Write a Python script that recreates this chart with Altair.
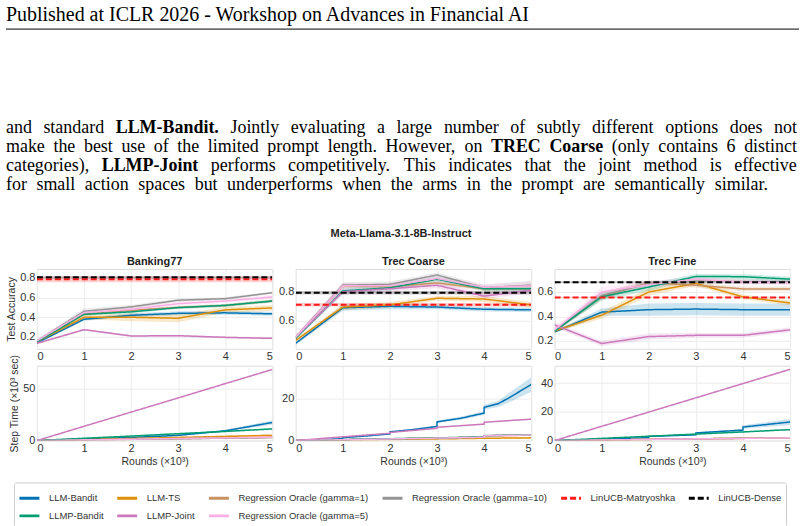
import altair as alt
import pandas as pd

METHODS = ["LLM-Bandit", "LLM-TS", "Regression Oracle (gamma=1)", "Regression Oracle (gamma=10)",
           "LinUCB-Matryoshka", "LinUCB-Dense", "LLMP-Bandit", "LLMP-Joint", "Regression Oracle (gamma=5)"]
COLORS = ["#0173b2", "#de8f05", "#ca9161", "#949494", "#ff1a1a", "#000000", "#029e73", "#cc78bc", "#fbafe4"]
DASHES = [[1, 0], [1, 0], [1, 0], [1, 0], [6, 3], [6, 3], [1, 0], [1, 0], [1, 0]]
LINUCB = ["LinUCB-Matryoshka", "LinUCB-Dense"]

ROUNDS = [0, 1, 2, 3, 4, 5]

ACC_BANKING = {
    "LLM-Bandit": [0.14, 0.38, 0.42, 0.44, 0.445, 0.435],
    "LLM-TS": [0.15, 0.40, 0.40, 0.39, 0.475, 0.495],
    "Regression Oracle (gamma=1)": [0.15, 0.43, 0.47, 0.50, 0.52, 0.565],
    "Regression Oracle (gamma=10)": [0.16, 0.46, 0.505, 0.573, 0.589, 0.649],
    "LinUCB-Matryoshka": [0.785, 0.785, 0.785, 0.785, 0.785, 0.785],
    "LinUCB-Dense": [0.805, 0.805, 0.805, 0.805, 0.805, 0.805],
    "LLMP-Bandit": [0.15, 0.43, 0.455, 0.498, 0.52, 0.565],
    "LLMP-Joint": [0.135, 0.274, 0.21, 0.213, 0.196, 0.186],
    "Regression Oracle (gamma=5)": [0.16, 0.448, 0.48, 0.538, 0.565, 0.606],
}
ACC_BANKING_CI = {
    "LLM-Bandit": [0.01, 0.015, 0.02, 0.02, 0.02, 0.02],
    "LLM-TS": [0.01, 0.02, 0.04, 0.04, 0.03, 0.03],
    "Regression Oracle (gamma=1)": [0.01, 0.015, 0.015, 0.015, 0.015, 0.015],
    "Regression Oracle (gamma=10)": [0.01, 0.03, 0.02, 0.015, 0.015, 0.01],
    "LinUCB-Matryoshka": [0.03, 0.03, 0.03, 0.03, 0.03, 0.03],
    "LinUCB-Dense": [0.012, 0.012, 0.012, 0.012, 0.012, 0.012],
    "LLMP-Bandit": [0.01, 0.015, 0.015, 0.015, 0.015, 0.015],
    "LLMP-Joint": [0.01, 0.01, 0.01, 0.01, 0.01, 0.01],
    "Regression Oracle (gamma=5)": [0.02, 0.02, 0.02, 0.02, 0.02, 0.02],
}

ACC_COARSE = {
    "LLM-Bandit": [0.448, 0.69, 0.70, 0.695, 0.68, 0.676],
    "LLM-TS": [0.468, 0.695, 0.71, 0.755, 0.75, 0.71],
    "Regression Oracle (gamma=1)": [0.49, 0.84, 0.834, 0.86, 0.82, 0.82],
    "Regression Oracle (gamma=10)": [0.49, 0.845, 0.85, 0.914, 0.827, 0.845],
    "LinUCB-Matryoshka": [0.71, 0.71, 0.71, 0.71, 0.71, 0.71],
    "LinUCB-Dense": [0.793, 0.793, 0.793, 0.793, 0.793, 0.793],
    "LLMP-Bandit": [0.482, 0.805, 0.827, 0.885, 0.82, 0.82],
    "LLMP-Joint": [0.49, 0.80, 0.82, 0.844, 0.77, 0.81],
    "Regression Oracle (gamma=5)": [0.49, 0.84, 0.84, 0.89, 0.83, 0.84],
}
ACC_COARSE_CI = {
    "LLM-Bandit": [0.01, 0.02, 0.02, 0.015, 0.015, 0.015],
    "LLM-TS": [0.01, 0.02, 0.02, 0.015, 0.02, 0.02],
    "Regression Oracle (gamma=1)": [0.01, 0.015, 0.015, 0.015, 0.015, 0.02],
    "Regression Oracle (gamma=10)": [0.01, 0.02, 0.02, 0.015, 0.02, 0.03],
    "LinUCB-Matryoshka": [0.012, 0.012, 0.012, 0.012, 0.012, 0.012],
    "LinUCB-Dense": [0.012, 0.012, 0.012, 0.012, 0.012, 0.012],
    "LLMP-Bandit": [0.01, 0.02, 0.02, 0.015, 0.015, 0.02],
    "LLMP-Joint": [0.01, 0.02, 0.02, 0.02, 0.02, 0.02],
    "Regression Oracle (gamma=5)": [0.01, 0.02, 0.02, 0.02, 0.02, 0.03],
}

ACC_FINE = {
    "LLM-Bandit": [0.273, 0.435, 0.455, 0.46, 0.455, 0.455],
    "LLM-TS": [0.28, 0.41, 0.60, 0.67, 0.56, 0.51],
    "Regression Oracle (gamma=1)": [0.28, 0.565, 0.675, 0.655, 0.625, 0.625],
    "Regression Oracle (gamma=10)": [0.28, 0.57, 0.67, 0.69, 0.685, 0.685],
    "LinUCB-Matryoshka": [0.555, 0.555, 0.555, 0.555, 0.555, 0.555],
    "LinUCB-Dense": [0.68, 0.68, 0.68, 0.68, 0.68, 0.68],
    "LLMP-Bandit": [0.28, 0.56, 0.64, 0.727, 0.725, 0.705],
    "LLMP-Joint": [0.33, 0.178, 0.235, 0.245, 0.245, 0.29],
    "Regression Oracle (gamma=5)": [0.29, 0.60, 0.66, 0.705, 0.68, 0.675],
}
ACC_FINE_CI = {
    "LLM-Bandit": [0.01, 0.03, 0.05, 0.05, 0.05, 0.05],
    "LLM-TS": [0.01, 0.03, 0.03, 0.02, 0.02, 0.02],
    "Regression Oracle (gamma=1)": [0.01, 0.03, 0.02, 0.02, 0.02, 0.02],
    "Regression Oracle (gamma=10)": [0.01, 0.03, 0.02, 0.02, 0.02, 0.02],
    "LinUCB-Matryoshka": [0.005, 0.005, 0.005, 0.005, 0.005, 0.005],
    "LinUCB-Dense": [0.008, 0.008, 0.008, 0.008, 0.008, 0.008],
    "LLMP-Bandit": [0.01, 0.03, 0.03, 0.02, 0.02, 0.02],
    "LLMP-Joint": [0.02, 0.02, 0.025, 0.02, 0.02, 0.02],
    "Regression Oracle (gamma=5)": [0.02, 0.04, 0.03, 0.02, 0.02, 0.02],
}

TIME_BANKING = {
    "LLM-Bandit": [0, 1.5, 3.0, 5.0, 9.4, 17.4],
    "LLM-TS": [0, 1.0, 2.0, 3.0, 4.0, 5.0],
    "Regression Oracle (gamma=1)": [0, 0.6, 1.2, 1.8, 2.4, 3.0],
    "Regression Oracle (gamma=10)": [0, 0.5, 1.1, 1.7, 2.3, 2.9],
    "LLMP-Bandit": [0, 2.2, 4.3, 6.6, 8.8, 11.2],
    "LLMP-Joint": [0, 13.7, 27.4, 41.0, 54.8, 68.4],
    "Regression Oracle (gamma=5)": [0, 0.7, 1.3, 2.0, 2.6, 3.3],
}
TIME_BANKING_CI = {
    "LLM-Bandit": [0, 0.2, 0.3, 0.5, 1.0, 2.0],
    "LLM-TS": [0, 0.2, 0.3, 0.5, 0.7, 1.0],
    "Regression Oracle (gamma=1)": [0, 0.1, 0.2, 0.3, 0.4, 0.5],
    "Regression Oracle (gamma=10)": [0, 0.1, 0.2, 0.3, 0.4, 0.5],
    "LLMP-Bandit": [0, 0.3, 0.5, 0.6, 0.8, 1.0],
    "LLMP-Joint": [0, 0.2, 0.2, 0.3, 0.3, 0.4],
    "Regression Oracle (gamma=5)": [0, 0.1, 0.2, 0.3, 0.4, 0.5],
}

TIME_COARSE_X = {
    "LLM-Bandit": [0, 1, 1, 1.5, 2, 2, 2.5, 3, 3, 3.5, 4, 4, 4.3, 4.6, 5],
    "LLM-TS": [0, 1, 2, 3, 4, 5],
    "Regression Oracle (gamma=1)": [0, 1, 2, 3, 4, 4, 5],
    "Regression Oracle (gamma=10)": [0, 1, 2, 3, 4, 4, 5],
    "LLMP-Bandit": [0, 1, 2, 3, 4, 4, 5],
    "LLMP-Joint": [0, 1, 2, 2, 3, 3, 4, 4, 5],
    "Regression Oracle (gamma=5)": [0, 1, 2, 3, 4, 4, 5],
}
TIME_COARSE = {
    "LLM-Bandit": [0, 0.9, 1.4, 2.2, 3.2, 4.2, 5.3, 6.8, 9.0, 10.7, 13.2, 16.0, 17.7, 21.5, 27.0],
    "LLM-TS": [0, 0.3, 0.5, 0.8, 1.1, 1.3],
    "Regression Oracle (gamma=1)": [0, 0.4, 0.8, 1.2, 1.6, 2.2, 2.6],
    "Regression Oracle (gamma=10)": [0, 0.4, 0.8, 1.2, 1.7, 2.4, 2.8],
    "LLMP-Bandit": [0, 0.5, 0.9, 1.3, 1.8, 2.3, 2.8],
    "LLMP-Joint": [0, 1.8, 3.5, 3.9, 5.9, 6.4, 7.9, 8.8, 10.3],
    "Regression Oracle (gamma=5)": [0, 0.4, 0.8, 1.2, 1.6, 2.3, 2.7],
}
TIME_COARSE_CI = {
    "LLM-Bandit": [0, 0.1, 0.1, 0.2, 0.3, 0.3, 0.4, 0.5, 0.6, 0.7, 0.9, 1.2, 1.5, 2.5, 3.5],
    "LLM-TS": [0, 0.05, 0.1, 0.1, 0.15, 0.2],
    "Regression Oracle (gamma=1)": [0, 0.05, 0.1, 0.1, 0.2, 0.3, 0.4],
    "Regression Oracle (gamma=10)": [0, 0.05, 0.1, 0.1, 0.2, 0.3, 0.5],
    "LLMP-Bandit": [0, 0.05, 0.1, 0.1, 0.2, 0.3, 0.4],
    "LLMP-Joint": [0, 0.1, 0.2, 0.2, 0.2, 0.2, 0.3, 0.3, 0.3],
    "Regression Oracle (gamma=5)": [0, 0.05, 0.1, 0.1, 0.2, 0.3, 0.4],
}

TIME_FINE_X = {
    "LLM-Bandit": [0, 1, 1, 2, 2, 3, 3, 4, 4, 5],
}
TIME_FINE = {
    "LLM-Bandit": [0, 0.9, 1.1, 2.0, 2.9, 4.0, 5.3, 7.3, 9.4, 12.9],
    "LLM-TS": [0, 0.4, 0.8, 1.2, 1.6, 2.0],
    "Regression Oracle (gamma=1)": [0, 0.4, 0.8, 1.2, 1.5, 1.9],
    "Regression Oracle (gamma=10)": [0, 0.4, 0.8, 1.2, 1.6, 2.0],
    "LLMP-Bandit": [0, 1.5, 3.0, 4.5, 6.0, 7.6],
    "LLMP-Joint": [0, 9.9, 19.8, 29.7, 39.6, 49.5],
    "Regression Oracle (gamma=5)": [0, 0.4, 0.8, 1.2, 1.5, 1.9],
}
TIME_FINE_CI = {
    "LLM-Bandit": [0, 0.1, 0.1, 0.2, 0.3, 0.4, 0.5, 0.8, 1.2, 2.0],
    "LLM-TS": [0, 0.05, 0.1, 0.1, 0.15, 0.2],
    "Regression Oracle (gamma=1)": [0, 0.05, 0.1, 0.1, 0.15, 0.2],
    "Regression Oracle (gamma=10)": [0, 0.05, 0.1, 0.1, 0.15, 0.2],
    "LLMP-Bandit": [0, 0.1, 0.2, 0.3, 0.4, 0.5],
    "LLMP-Joint": [0, 0.2, 0.2, 0.3, 0.3, 0.4],
    "Regression Oracle (gamma=5)": [0, 0.05, 0.1, 0.1, 0.15, 0.2],
}

HEADER = "Published at ICLR 2026 - Workshop on Advances in Financial AI"
FIG_TITLE = "Meta-Llama-3.1-8B-Instruct"
PANEL_TITLES = ["Banking77", "Trec Coarse", "Trec Fine"]
Y_TITLES = ["Test Accuracy", "Step Time (×10³ sec)"]
X_TITLE = "Rounds (×10³)"
PARA_LINES = [
    "and standard **LLM-Bandit.** Jointly evaluating a large number of subtly different options does not",
    "make the best use of the limited prompt length. However, on **TREC** **Coarse** (only contains 6 distinct",
    "categories), **LLMP-Joint** performs competitively. This indicates that the joint method is effective",
    "for small action spaces but underperforms when the arms in the prompt are semantically similar.",
]

# Times / Liberation Serif advance widths (1/1000 em), used only to justify the paragraph
TIMES_R = dict(zip(" (),-.0123456789", [250, 333, 333, 250, 333, 250] + [500] * 10))
TIMES_R.update(dict(zip("ABCDEFGHIJKLMNOPQRSTUVWXYZ",
                        [722, 667, 667, 722, 611, 556, 722, 722, 333, 389, 722, 611, 889,
                         722, 722, 556, 722, 667, 556, 611, 722, 722, 944, 722, 722, 611])))
TIMES_R.update(dict(zip("abcdefghijklmnopqrstuvwxyz",
                        [444, 500, 444, 500, 444, 333, 500, 500, 278, 278, 500, 278, 778,
                         500, 500, 500, 500, 333, 389, 278, 500, 500, 722, 500, 500, 444])))
TIMES_B = dict(TIMES_R)
TIMES_B.update({"a": 500, "b": 556, "d": 556, "n": 556, "r": 444, "t": 333, "J": 500, "L": 667,
                "M": 944, "P": 611, "R": 722, "T": 667, "E": 667, "C": 722, "B": 667})

OX = 36
PW = 236
TOP_H = 80
BOT_H = 75
TEXT_H = 251
TEXT_L, TEXT_R, LAST_END = 5, 798, 770
PARA_SIZE = 18
HDR_SIZE = 20
LINE_Y0 = 132
LINE_DY = 19


def wem(word, bold):
    t = TIMES_B if bold else TIMES_R
    return sum(t.get(c, 500) for c in word) / 1000.0


def typeset():
    rows = []
    for ln, line in enumerate(PARA_LINES):
        words = [(w.strip("*"), w.startswith("**")) for w in line.split(" ")]
        nat = sum(wem(w, b) for w, b in words) * PARA_SIZE
        right = TEXT_R if ln < len(PARA_LINES) - 1 else LAST_END
        gap = (right - TEXT_L - nat) / (len(words) - 1)
        x = TEXT_L
        for w, b in words:
            rows.append(dict(px=x - OX, py=LINE_Y0 + LINE_DY * ln, text=w, bold=b))
            x += wem(w, b) * PARA_SIZE + gap
    return pd.DataFrame(rows)


BAND_KEYS = ["band " + m for m in METHODS]
stroke_scale = alt.Scale(domain=METHODS, range=COLORS)
fill_scale = alt.Scale(domain=BAND_KEYS, range=COLORS)
dash_scale = alt.Scale(domain=METHODS, range=DASHES)

LEGEND = alt.Legend(
    title=None, orient="none", legendX=13 - OX, legendY=482 - 365, columns=6, direction="horizontal",
    symbolType="stroke", symbolSize=400, symbolStrokeWidth=3,
    labelFont="Liberation Sans", labelFontSize=9.5, labelColor="#333333", labelOffset=8,
    labelLimit=400, columnPadding=7, rowPadding=-6, padding=4,
    strokeColor="#cccccc", fillColor="white", cornerRadius=2,
)


def build(series, ci, xs=None):
    rows = []
    for m in METHODS:
        if m not in series:
            continue
        ys = series[m]
        cs = ci[m]
        xx = (xs or {}).get(m, ROUNDS)
        for i, (a, b, c) in enumerate(zip(xx, ys, cs)):
            rows.append(dict(method=m, bkey="band " + m, i=i, x=a, y=b, lo=b - c, hi=b + c))
    return pd.DataFrame(rows)


def panel(df, ydom, yvals, yfmt, height, title=None, ytitle="", xtitle="", leg=None):
    xenc = alt.X("x:Q", scale=alt.Scale(domain=[0, 5], nice=False, zero=False),
                 axis=alt.Axis(values=ROUNDS, format="d", title=xtitle))
    yscale = alt.Scale(domain=ydom, nice=False, zero=False)
    yaxis = alt.Axis(values=yvals, format=yfmt, title=ytitle)
    main = df[~df["method"].isin(LINUCB)]
    lin = df[df["method"].isin(LINUCB)]
    band = alt.Chart(df).mark_area(opacity=0.2, clip=True).encode(
        x=xenc,
        y=alt.Y("lo:Q", scale=yscale, axis=yaxis),
        y2="hi:Q",
        fill=alt.Fill("bkey:N", scale=fill_scale, legend=None),
        detail="bkey:N",
    )
    lines = alt.Chart(main).mark_line(strokeWidth=1.5, clip=True).encode(
        x=xenc,
        y=alt.Y("y:Q", scale=yscale, axis=yaxis),
        stroke=alt.Stroke("method:N", scale=stroke_scale, legend=leg),
        strokeDash=alt.StrokeDash("method:N", scale=dash_scale, legend=leg),
        order="i:Q",
    )
    layers = [band, lines]
    if len(lin):
        linl = alt.Chart(lin).mark_line(strokeWidth=2, clip=True).encode(
            x=xenc,
            y=alt.Y("y:Q", scale=yscale, axis=yaxis),
            stroke=alt.Stroke("method:N", scale=stroke_scale, legend=leg),
            strokeDash=alt.StrokeDash("method:N", scale=dash_scale, legend=leg),
            order="i:Q",
        )
        layers.append(linl)
    ch = alt.layer(*layers).properties(width=PW, height=height)
    if title:
        ch = ch.properties(title=title)
    return ch


para_df = typeset()

one = pd.DataFrame({"k": [0]})
bg = alt.Chart(one).mark_rect(fill="white").encode(
    x=alt.value(-OX), x2=alt.value(804 - OX), y=alt.value(0), y2=alt.value(526))
rule = alt.Chart(one).mark_rule(color="black", strokeWidth=1).encode(
    x=alt.value(5 - OX), x2=alt.value(800 - OX), y=alt.value(27.5))
hdr = alt.Chart(pd.DataFrame({"t": [HEADER]})).mark_text(
    font="Liberation Serif", fontSize=HDR_SIZE, align="left", baseline="alphabetic", color="black"
).encode(x=alt.value(5 - OX), y=alt.value(19.5), text="t:N")

para_layers = []
for bold in (False, True):
    sub = para_df[para_df["bold"] == bold]
    para_layers.append(
        alt.Chart(sub).mark_text(
            font="Liberation Serif", fontSize=PARA_SIZE, align="left", baseline="alphabetic",
            fontWeight="bold" if bold else "normal", color="black",
        ).encode(x=alt.X("px:Q", scale=None, axis=None),
                 y=alt.Y("py:Q", scale=None, axis=None), text="text:N")
    )
ftitle = alt.Chart(pd.DataFrame({"t": [FIG_TITLE]})).mark_text(
    font="Liberation Sans", fontSize=11, fontWeight="bold", align="center", baseline="middle", color="#222222"
).encode(x=alt.value(401 - OX), y=alt.value(233), text="t:N")

text_cell = alt.layer(bg, rule, hdr, *para_layers, ftitle).properties(
    width=PW, height=TEXT_H, view=alt.ViewBackground(stroke="transparent"))
blank = alt.Chart(one).mark_point(opacity=0, size=1).encode(
    x=alt.value(50), y=alt.value(50)).properties(
    width=PW, height=TEXT_H, view=alt.ViewBackground(stroke="transparent"))

p1 = panel(build(ACC_BANKING, ACC_BANKING_CI), [0.08, 0.89], [0.2, 0.4, 0.6, 0.8], ".1f", TOP_H,
           title=PANEL_TITLES[0], ytitle=Y_TITLES[0])
p2 = panel(build(ACC_COARSE, ACC_COARSE_CI), [0.41, 0.955], [0.6, 0.8], ".1f", TOP_H,
           title=PANEL_TITLES[1])
p3 = panel(build(ACC_FINE, ACC_FINE_CI), [0.135, 0.788], [0.2, 0.4, 0.6], ".1f", TOP_H,
           title=PANEL_TITLES[2])
q1 = panel(build(TIME_BANKING, TIME_BANKING_CI), [0, 72], [0, 50], "d", BOT_H,
           ytitle=Y_TITLES[1], xtitle=X_TITLE, leg=LEGEND)
q2 = panel(build(TIME_COARSE, TIME_COARSE_CI, TIME_COARSE_X), [0, 36], [0, 20], "d", BOT_H,
           xtitle=X_TITLE)
q3 = panel(build(TIME_FINE, TIME_FINE_CI, TIME_FINE_X), [0, 52], [0, 20, 40], "d", BOT_H,
           xtitle=X_TITLE)

chart = alt.concat(
    text_cell, blank, blank, p1, p2, p3, q1, q2, q3,
    columns=3, spacing=alt.RowColnumber(row=17, column=23.5), bounds="flush",
).resolve_scale(
    stroke="shared", strokeDash="shared", fill="shared"
).resolve_legend(
    stroke="independent", strokeDash="independent", fill="independent"
).properties(
    padding=0, autosize=alt.AutoSizeParams(type="pad"), background="white"
).configure_view(
    stroke="#dddddd", strokeWidth=1
).configure_axis(
    grid=True, gridColor="#ececec", gridWidth=1, domain=False, ticks=False,
    labelFont="Liberation Sans", labelFontSize=11, labelColor="#333333", labelPadding=2,
    titleFont="Liberation Sans", titleFontSize=10.5, titleFontWeight="normal", titleColor="#333333",
    titlePadding=3,
).configure_title(
    font="Liberation Sans", fontSize=11, fontWeight="bold", color="#222222", anchor="middle", offset=2
)

chart.save("out.html", embed_options={"renderer": "svg", "actions": False})
